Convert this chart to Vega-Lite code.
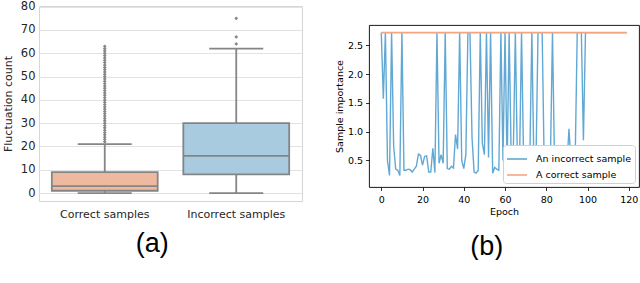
{
  "$schema": "https://vega.github.io/schema/vega-lite/v6.json",
  "background": "white",
  "padding": {"left": 1, "top": 0, "right": 0, "bottom": 0},
  "spacing": 30,
  "resolve": {"scale": {"color": "independent", "fill": "independent"}, "legend": {"color": "independent", "fill": "independent"}},
  "datasets": {
    "boxes": [
      {"group": "Correct samples", "lower": 0, "q1": 1, "median": 3, "q3": 9, "upper": 21},
      {"group": "Incorrect samples", "lower": 0, "q1": 8, "median": 16, "q3": 30, "upper": 62}
    ],
    "outliers": [
      {"group": "Correct samples", "value": 22}, {"group": "Correct samples", "value": 23}, {"group": "Correct samples", "value": 24},
      {"group": "Correct samples", "value": 25}, {"group": "Correct samples", "value": 26}, {"group": "Correct samples", "value": 27},
      {"group": "Correct samples", "value": 28}, {"group": "Correct samples", "value": 29}, {"group": "Correct samples", "value": 30},
      {"group": "Correct samples", "value": 31}, {"group": "Correct samples", "value": 32}, {"group": "Correct samples", "value": 33},
      {"group": "Correct samples", "value": 34}, {"group": "Correct samples", "value": 35}, {"group": "Correct samples", "value": 36},
      {"group": "Correct samples", "value": 37}, {"group": "Correct samples", "value": 38}, {"group": "Correct samples", "value": 39},
      {"group": "Correct samples", "value": 40}, {"group": "Correct samples", "value": 41}, {"group": "Correct samples", "value": 42},
      {"group": "Correct samples", "value": 43}, {"group": "Correct samples", "value": 44}, {"group": "Correct samples", "value": 45},
      {"group": "Correct samples", "value": 46}, {"group": "Correct samples", "value": 47}, {"group": "Correct samples", "value": 48},
      {"group": "Correct samples", "value": 49}, {"group": "Correct samples", "value": 50}, {"group": "Correct samples", "value": 51},
      {"group": "Correct samples", "value": 52}, {"group": "Correct samples", "value": 53}, {"group": "Correct samples", "value": 54},
      {"group": "Correct samples", "value": 55}, {"group": "Correct samples", "value": 56}, {"group": "Correct samples", "value": 57},
      {"group": "Correct samples", "value": 58}, {"group": "Correct samples", "value": 59}, {"group": "Correct samples", "value": 60},
      {"group": "Correct samples", "value": 61}, {"group": "Correct samples", "value": 62}, {"group": "Correct samples", "value": 63},
      {"group": "Incorrect samples", "value": 64}, {"group": "Incorrect samples", "value": 67}, {"group": "Incorrect samples", "value": 75}
    ],
    "incorrect": [
      {"epoch": 0, "importance": 2.718, "series": "An incorrect sample"},
      {"epoch": 1, "importance": 1.57, "series": "An incorrect sample"},
      {"epoch": 2, "importance": 2.718, "series": "An incorrect sample"},
      {"epoch": 3, "importance": 0.5, "series": "An incorrect sample"},
      {"epoch": 4, "importance": 0.24, "series": "An incorrect sample"},
      {"epoch": 5, "importance": 2.718, "series": "An incorrect sample"},
      {"epoch": 6, "importance": 0.75, "series": "An incorrect sample"},
      {"epoch": 7, "importance": 0.35, "series": "An incorrect sample"},
      {"epoch": 8, "importance": 0.33, "series": "An incorrect sample"},
      {"epoch": 9, "importance": 0.24, "series": "An incorrect sample"},
      {"epoch": 10, "importance": 2.718, "series": "An incorrect sample"},
      {"epoch": 11, "importance": 0.33, "series": "An incorrect sample"},
      {"epoch": 12, "importance": 0.33, "series": "An incorrect sample"},
      {"epoch": 13, "importance": 0.35, "series": "An incorrect sample"},
      {"epoch": 14, "importance": 0.34, "series": "An incorrect sample"},
      {"epoch": 15, "importance": 0.3, "series": "An incorrect sample"},
      {"epoch": 16, "importance": 0.35, "series": "An incorrect sample"},
      {"epoch": 17, "importance": 0.4, "series": "An incorrect sample"},
      {"epoch": 18, "importance": 0.61, "series": "An incorrect sample"},
      {"epoch": 19, "importance": 0.59, "series": "An incorrect sample"},
      {"epoch": 20, "importance": 0.42, "series": "An incorrect sample"},
      {"epoch": 21, "importance": 0.57, "series": "An incorrect sample"},
      {"epoch": 22, "importance": 0.58, "series": "An incorrect sample"},
      {"epoch": 23, "importance": 0.3, "series": "An incorrect sample"},
      {"epoch": 24, "importance": 0.3, "series": "An incorrect sample"},
      {"epoch": 25, "importance": 0.71, "series": "An incorrect sample"},
      {"epoch": 26, "importance": 0.29, "series": "An incorrect sample"},
      {"epoch": 27, "importance": 2.718, "series": "An incorrect sample"},
      {"epoch": 28, "importance": 0.45, "series": "An incorrect sample"},
      {"epoch": 29, "importance": 0.6, "series": "An incorrect sample"},
      {"epoch": 30, "importance": 0.45, "series": "An incorrect sample"},
      {"epoch": 31, "importance": 2.718, "series": "An incorrect sample"},
      {"epoch": 32, "importance": 0.36, "series": "An incorrect sample"},
      {"epoch": 33, "importance": 0.35, "series": "An incorrect sample"},
      {"epoch": 34, "importance": 0.4, "series": "An incorrect sample"},
      {"epoch": 35, "importance": 0.37, "series": "An incorrect sample"},
      {"epoch": 36, "importance": 0.95, "series": "An incorrect sample"},
      {"epoch": 37, "importance": 0.7, "series": "An incorrect sample"},
      {"epoch": 38, "importance": 2.718, "series": "An incorrect sample"},
      {"epoch": 39, "importance": 0.5, "series": "An incorrect sample"},
      {"epoch": 40, "importance": 0.36, "series": "An incorrect sample"},
      {"epoch": 41, "importance": 0.6, "series": "An incorrect sample"},
      {"epoch": 42, "importance": 2.718, "series": "An incorrect sample"},
      {"epoch": 43, "importance": 2.718, "series": "An incorrect sample"},
      {"epoch": 44, "importance": 0.9, "series": "An incorrect sample"},
      {"epoch": 45, "importance": 0.3, "series": "An incorrect sample"},
      {"epoch": 46, "importance": 0.28, "series": "An incorrect sample"},
      {"epoch": 47, "importance": 0.33, "series": "An incorrect sample"},
      {"epoch": 48, "importance": 2.718, "series": "An incorrect sample"},
      {"epoch": 49, "importance": 0.8, "series": "An incorrect sample"},
      {"epoch": 50, "importance": 0.6, "series": "An incorrect sample"},
      {"epoch": 51, "importance": 2.718, "series": "An incorrect sample"},
      {"epoch": 52, "importance": 0.55, "series": "An incorrect sample"},
      {"epoch": 53, "importance": 2.718, "series": "An incorrect sample"},
      {"epoch": 54, "importance": 0.28, "series": "An incorrect sample"},
      {"epoch": 55, "importance": 0.38, "series": "An incorrect sample"},
      {"epoch": 56, "importance": 0.35, "series": "An incorrect sample"},
      {"epoch": 57, "importance": 0.33, "series": "An incorrect sample"},
      {"epoch": 58, "importance": 2.718, "series": "An incorrect sample"},
      {"epoch": 59, "importance": 0.5, "series": "An incorrect sample"},
      {"epoch": 60, "importance": 2.718, "series": "An incorrect sample"},
      {"epoch": 61, "importance": 0.4, "series": "An incorrect sample"},
      {"epoch": 62, "importance": 2.718, "series": "An incorrect sample"},
      {"epoch": 63, "importance": 0.5, "series": "An incorrect sample"},
      {"epoch": 64, "importance": 0.6, "series": "An incorrect sample"},
      {"epoch": 65, "importance": 2.718, "series": "An incorrect sample"},
      {"epoch": 66, "importance": 0.45, "series": "An incorrect sample"},
      {"epoch": 67, "importance": 0.4, "series": "An incorrect sample"},
      {"epoch": 68, "importance": 2.718, "series": "An incorrect sample"},
      {"epoch": 69, "importance": 0.5, "series": "An incorrect sample"},
      {"epoch": 70, "importance": 0.35, "series": "An incorrect sample"},
      {"epoch": 71, "importance": 0.4, "series": "An incorrect sample"},
      {"epoch": 72, "importance": 0.5, "series": "An incorrect sample"},
      {"epoch": 73, "importance": 2.718, "series": "An incorrect sample"},
      {"epoch": 74, "importance": 0.4, "series": "An incorrect sample"},
      {"epoch": 75, "importance": 0.45, "series": "An incorrect sample"},
      {"epoch": 76, "importance": 2.718, "series": "An incorrect sample"},
      {"epoch": 77, "importance": 2.718, "series": "An incorrect sample"},
      {"epoch": 78, "importance": 2.718, "series": "An incorrect sample"},
      {"epoch": 79, "importance": 0.4, "series": "An incorrect sample"},
      {"epoch": 80, "importance": 0.35, "series": "An incorrect sample"},
      {"epoch": 81, "importance": 0.4, "series": "An incorrect sample"},
      {"epoch": 82, "importance": 0.5, "series": "An incorrect sample"},
      {"epoch": 83, "importance": 2.718, "series": "An incorrect sample"},
      {"epoch": 84, "importance": 0.45, "series": "An incorrect sample"},
      {"epoch": 85, "importance": 0.4, "series": "An incorrect sample"},
      {"epoch": 86, "importance": 0.72, "series": "An incorrect sample"},
      {"epoch": 87, "importance": 0.4, "series": "An incorrect sample"},
      {"epoch": 88, "importance": 0.3, "series": "An incorrect sample"},
      {"epoch": 89, "importance": 0.35, "series": "An incorrect sample"},
      {"epoch": 90, "importance": 0.4, "series": "An incorrect sample"},
      {"epoch": 91, "importance": 1.05, "series": "An incorrect sample"},
      {"epoch": 92, "importance": 0.45, "series": "An incorrect sample"},
      {"epoch": 93, "importance": 0.4, "series": "An incorrect sample"},
      {"epoch": 94, "importance": 0.5, "series": "An incorrect sample"},
      {"epoch": 95, "importance": 2.718, "series": "An incorrect sample"},
      {"epoch": 96, "importance": 2.718, "series": "An incorrect sample"},
      {"epoch": 97, "importance": 2.718, "series": "An incorrect sample"},
      {"epoch": 98, "importance": 0.85, "series": "An incorrect sample"},
      {"epoch": 99, "importance": 2.718, "series": "An incorrect sample"},
      {"epoch": 100, "importance": 2.718, "series": "An incorrect sample"},
      {"epoch": 110, "importance": 2.718, "series": "An incorrect sample"},
      {"epoch": 119, "importance": 2.718, "series": "An incorrect sample"}
    ],
    "correct": [
      {"epoch": 0, "importance": 2.718, "series": "A correct sample"},
      {"epoch": 119, "importance": 2.718, "series": "A correct sample"}
    ]
  },
  "hconcat": [
    {
      "width": 263,
      "height": 195,
      "view": {"stroke": "#d6d6d6", "strokeWidth": 1},
      "title": {"text": "(a)", "orient": "bottom", "anchor": "middle", "frame": "bounds", "font": "Liberation Sans", "fontSize": 27, "fontWeight": "normal", "color": "#000", "offset": 12},
      "layer": [
        {
          "data": {"name": "boxes"},
          "mark": {"type": "rule", "color": "#858585", "strokeWidth": 1.8},
          "encoding": {
            "x": {"field": "group", "type": "nominal", "scale": {"paddingInner": 0, "paddingOuter": 0},
                  "axis": {"title": null, "labelAngle": 0, "labelFont": "DejaVu Sans", "labelFontSize": 11, "labelColor": "#262626", "ticks": false, "domain": false, "labelPadding": 7, "grid": false}},
            "y": {"field": "lower", "type": "quantitative", "scale": {"domain": [-3.4, 80.3], "nice": false, "zero": false},
                  "axis": {"title": "Fluctuation count", "values": [0, 10, 20, 30, 40, 50, 60, 70, 80], "tickCount": 9, "titleFont": "DejaVu Sans", "titleFontSize": 11, "titleFontWeight": "normal", "titleColor": "#262626", "titlePadding": 7, "labelFont": "DejaVu Sans", "labelFontSize": 11.5, "labelColor": "#262626", "labelPadding": 4, "labelOverlap": false, "ticks": false, "domain": false, "grid": true, "gridColor": "#e3e3e3", "gridWidth": 1}},
            "y2": {"field": "upper"}
          }
        },
        {
          "data": {"name": "boxes"},
          "mark": {"type": "bar", "width": {"band": 0.805}, "stroke": "#858585", "strokeWidth": 1.8},
          "encoding": {
            "x": {"field": "group", "type": "nominal"},
            "y": {"field": "q1", "type": "quantitative",
                  "axis": {"title": "Fluctuation count", "values": [0, 10, 20, 30, 40, 50, 60, 70, 80], "tickCount": 9, "titleFont": "DejaVu Sans", "titleFontSize": 11, "titleFontWeight": "normal", "titleColor": "#262626", "titlePadding": 7, "labelFont": "DejaVu Sans", "labelFontSize": 11.5, "labelColor": "#262626", "labelPadding": 4, "labelOverlap": false, "ticks": false, "domain": false, "grid": true, "gridColor": "#e3e3e3", "gridWidth": 1}},
            "y2": {"field": "q3"},
            "fill": {"field": "group", "type": "nominal", "scale": {"domain": ["Correct samples", "Incorrect samples"], "range": ["#efb9a0", "#a8cbe0"]}, "legend": null}
          }
        },
        {
          "data": {"name": "boxes"},
          "mark": {"type": "tick", "color": "#858585", "size": 106, "thickness": 1.8, "opacity": 1},
          "encoding": {
            "x": {"field": "group", "type": "nominal"},
            "y": {"field": "median", "type": "quantitative",
                  "axis": {"title": "Fluctuation count", "values": [0, 10, 20, 30, 40, 50, 60, 70, 80], "tickCount": 9, "titleFont": "DejaVu Sans", "titleFontSize": 11, "titleFontWeight": "normal", "titleColor": "#262626", "titlePadding": 7, "labelFont": "DejaVu Sans", "labelFontSize": 11.5, "labelColor": "#262626", "labelPadding": 4, "labelOverlap": false, "ticks": false, "domain": false, "grid": true, "gridColor": "#e3e3e3", "gridWidth": 1}}
          }
        },
        {
          "data": {"name": "boxes"},
          "mark": {"type": "tick", "color": "#858585", "size": 54, "thickness": 1.8, "opacity": 1},
          "encoding": {
            "x": {"field": "group", "type": "nominal"},
            "y": {"field": "upper", "type": "quantitative",
                  "axis": {"title": "Fluctuation count", "values": [0, 10, 20, 30, 40, 50, 60, 70, 80], "tickCount": 9, "titleFont": "DejaVu Sans", "titleFontSize": 11, "titleFontWeight": "normal", "titleColor": "#262626", "titlePadding": 7, "labelFont": "DejaVu Sans", "labelFontSize": 11.5, "labelColor": "#262626", "labelPadding": 4, "labelOverlap": false, "ticks": false, "domain": false, "grid": true, "gridColor": "#e3e3e3", "gridWidth": 1}}
          }
        },
        {
          "data": {"name": "boxes"},
          "mark": {"type": "tick", "color": "#858585", "size": 54, "thickness": 1.8, "opacity": 1},
          "encoding": {
            "x": {"field": "group", "type": "nominal"},
            "y": {"field": "lower", "type": "quantitative",
                  "axis": {"title": "Fluctuation count", "values": [0, 10, 20, 30, 40, 50, 60, 70, 80], "tickCount": 9, "titleFont": "DejaVu Sans", "titleFontSize": 11, "titleFontWeight": "normal", "titleColor": "#262626", "titlePadding": 7, "labelFont": "DejaVu Sans", "labelFontSize": 11.5, "labelColor": "#262626", "labelPadding": 4, "labelOverlap": false, "ticks": false, "domain": false, "grid": true, "gridColor": "#e3e3e3", "gridWidth": 1}}
          }
        },
        {
          "data": {"name": "outliers"},
          "mark": {"type": "point", "shape": "diamond", "filled": true, "color": "#858585", "size": 14, "opacity": 1},
          "encoding": {
            "x": {"field": "group", "type": "nominal"},
            "y": {"field": "value", "type": "quantitative",
                  "axis": {"title": "Fluctuation count", "values": [0, 10, 20, 30, 40, 50, 60, 70, 80], "tickCount": 9, "titleFont": "DejaVu Sans", "titleFontSize": 11, "titleFontWeight": "normal", "titleColor": "#262626", "titlePadding": 7, "labelFont": "DejaVu Sans", "labelFontSize": 11.5, "labelColor": "#262626", "labelPadding": 4, "labelOverlap": false, "ticks": false, "domain": false, "grid": true, "gridColor": "#e3e3e3", "gridWidth": 1}}
          }
        }
      ]
    },
    {
      "title": {"text": "(b)", "orient": "bottom", "anchor": "middle", "frame": "bounds", "font": "Liberation Sans", "fontSize": 27, "fontWeight": "normal", "color": "#000", "offset": 18},
      "spacing": 17,
      "resolve": {"scale": {"color": "independent"}, "legend": {"color": "independent"}},
      "vconcat": [
        {
          "width": 270,
          "height": 1,
          "view": {"stroke": null},
          "data": {"values": []},
          "mark": {"type": "point", "opacity": 0},
          "encoding": {}
        },
        {
          "width": 270,
          "height": 162,
          "view": {"stroke": "#000", "strokeWidth": 0.9},
          "layer": [
            {
              "data": {"name": "incorrect"},
              "mark": {"type": "line", "strokeWidth": 1.4, "clip": true},
              "encoding": {
                "x": {"field": "epoch", "type": "quantitative", "scale": {"domain": [-5.95, 124.95], "nice": false, "zero": false},
                      "axis": {"title": "Epoch", "values": [0, 20, 40, 60, 80, 100, 120], "titleFont": "DejaVu Sans", "titleFontSize": 9.5, "titleFontWeight": "normal", "titleColor": "#000", "titlePadding": 2, "labelFont": "DejaVu Sans", "labelFontSize": 9.5, "labelColor": "#000", "labelPadding": 4, "tickSize": 3.5, "tickColor": "#000", "tickWidth": 0.8, "domain": false, "grid": false}},
                "y": {"field": "importance", "type": "quantitative", "scale": {"domain": [0.04, 2.85], "nice": false, "zero": false},
                      "axis": {"title": "Sample importance", "values": [0.5, 1.0, 1.5, 2.0, 2.5], "format": ".1f", "titleFont": "DejaVu Sans", "titleFontSize": 9.5, "titleFontWeight": "normal", "titleColor": "#000", "titlePadding": 3, "labelFont": "DejaVu Sans", "labelFontSize": 9.5, "labelColor": "#000", "labelPadding": 3, "tickSize": 3.5, "tickColor": "#000", "tickWidth": 0.8, "domain": false, "grid": false}},
                "color": {"field": "series", "type": "nominal",
                          "scale": {"domain": ["An incorrect sample", "A correct sample"], "range": ["#62a8d4", "#f4a582"]},
                          "legend": {"title": null, "orient": "bottom-right", "offset": 4, "symbolType": "stroke", "symbolSize": 400, "symbolStrokeWidth": 1.6, "labelFont": "DejaVu Sans", "labelFontSize": 9.5, "labelColor": "#000", "fillColor": "white", "strokeColor": "#d0d0d0", "cornerRadius": 3, "padding": 3, "rowPadding": -5, "labelOffset": 8}}
              }
            },
            {
              "data": {"name": "correct"},
              "mark": {"type": "line", "strokeWidth": 1.8, "clip": true},
              "encoding": {
                "x": {"field": "epoch", "type": "quantitative",
                      "axis": {"title": "Epoch", "values": [0, 20, 40, 60, 80, 100, 120], "titleFont": "DejaVu Sans", "titleFontSize": 9.5, "titleFontWeight": "normal", "titleColor": "#000", "titlePadding": 2, "labelFont": "DejaVu Sans", "labelFontSize": 9.5, "labelColor": "#000", "labelPadding": 4, "tickSize": 3.5, "tickColor": "#000", "tickWidth": 0.8, "domain": false, "grid": false}},
                "y": {"field": "importance", "type": "quantitative",
                      "axis": {"title": "Sample importance", "values": [0.5, 1.0, 1.5, 2.0, 2.5], "format": ".1f", "titleFont": "DejaVu Sans", "titleFontSize": 9.5, "titleFontWeight": "normal", "titleColor": "#000", "titlePadding": 3, "labelFont": "DejaVu Sans", "labelFontSize": 9.5, "labelColor": "#000", "labelPadding": 3, "tickSize": 3.5, "tickColor": "#000", "tickWidth": 0.8, "domain": false, "grid": false}},
                "color": {"field": "series", "type": "nominal"}
              }
            }
          ]
        }
      ]
    }
  ],
  "config": {
    "title": {"fontWeight": "normal"}
  }
}
